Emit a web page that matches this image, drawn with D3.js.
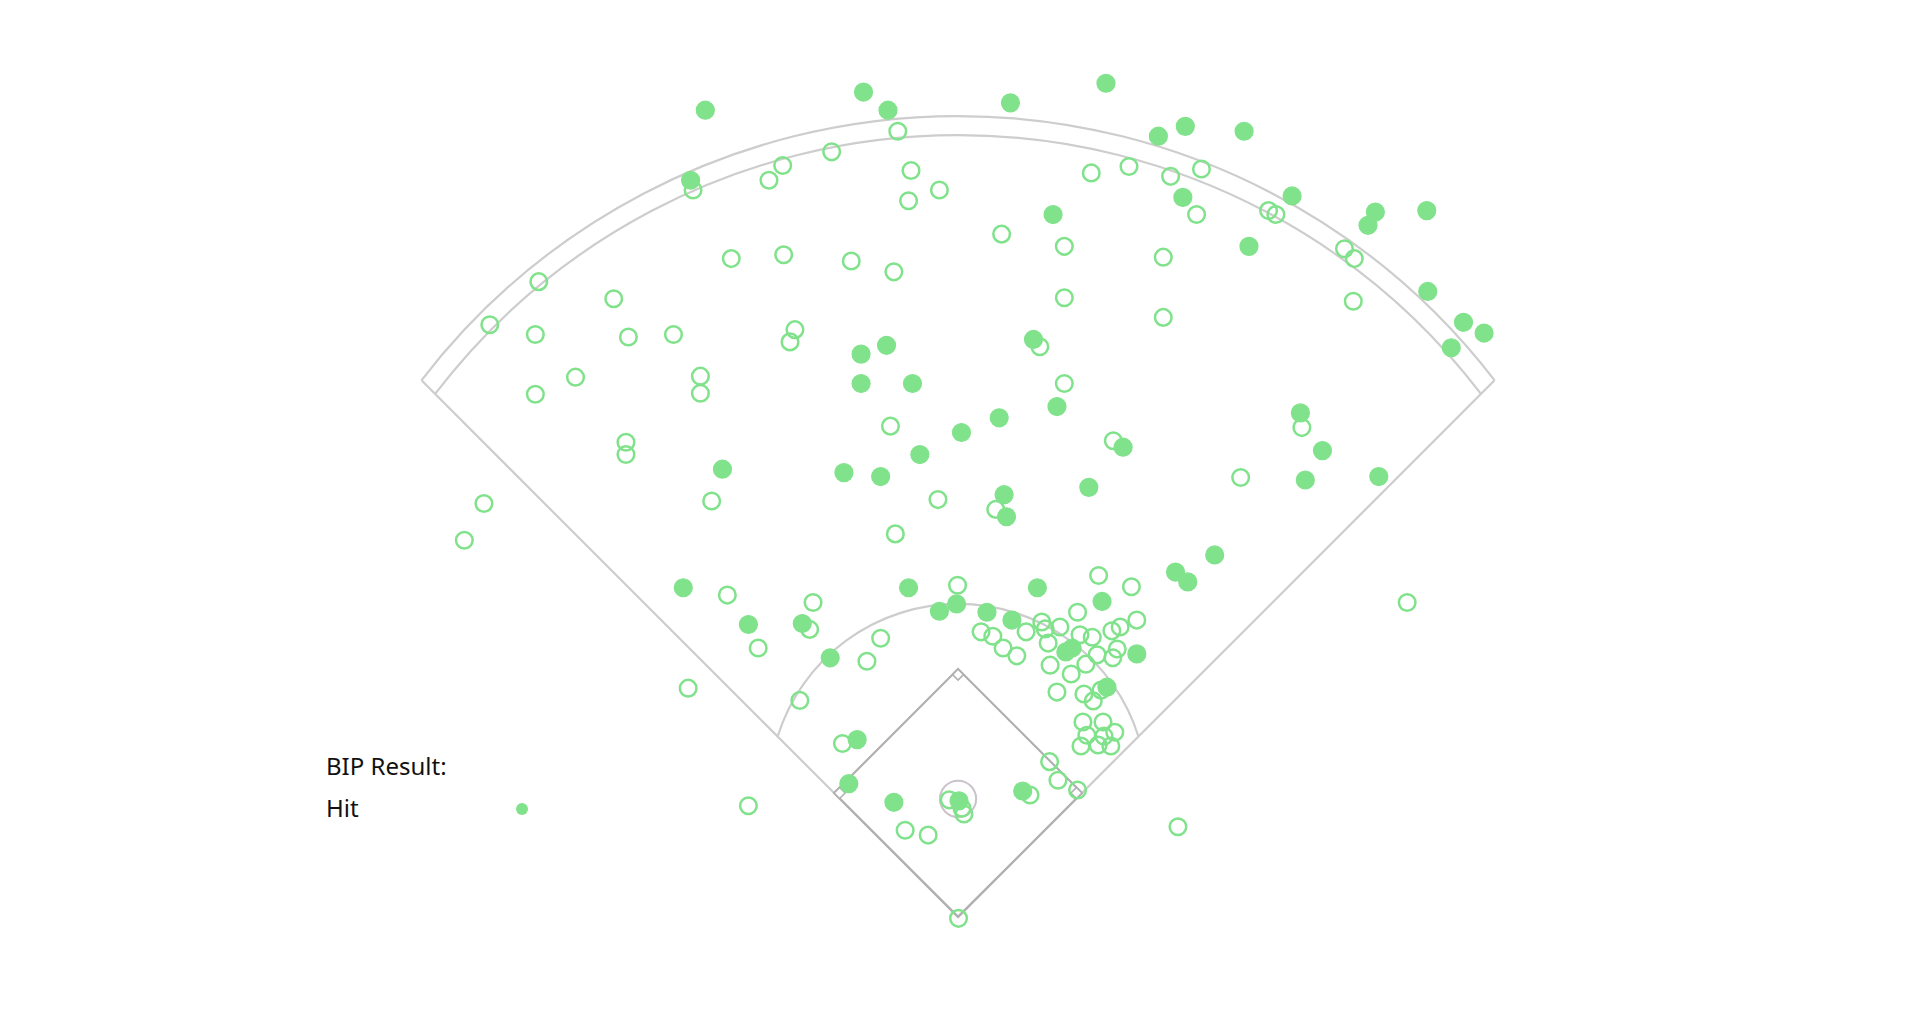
<!DOCTYPE html>
<html>
<head>
<meta charset="utf-8">
<script src="https://cdn.jsdelivr.net/npm/d3@7"></script>
<style>
  html, body { margin: 0; background: #fff; }
  svg { display: block; }
  .field { fill: none; stroke: #cdcdcd; stroke-width: 2.2; }
  .diamond { fill: none; stroke: #b0b0b0; stroke-width: 2.2; }
  .base { fill: #fff; stroke: #b0b0b0; stroke-width: 1.6; }
  .legend text { font-family: "Noto Sans", sans-serif; font-size: 24px; fill: #111; }
</style>
</head>
<body>
<div id="chart"></div>
<script>

// balls in play, hit coordinates (hc_x, hc_y)
const hitX = [74.0, 106.3, 111.3, 136.3, 155.8, 166.5, 172.0, 184.0, 193.8, 210.8, 209.3, 221.3, 221.5, 228.8, 233.0, 226.3,
	71.0, 171.5, 145.0, 185.0, 105.8, 111.0, 105.8, 116.3, 141.0, 145.8, 126.3, 134.0, 117.8, 159.3, 195.5, 200.0,
	196.5, 211.5, 77.5, 102.3, 109.8, 135.0, 135.5, 152.3, 178.0, 170.0, 172.5, 69.5, 82.8, 93.8, 115.5, 121.8,
	125.3, 131.5, 141.8, 155.0, 99.5, 105.0, 103.3, 112.5, 138.8, 148.9, 147.6, 162.1, 156.0, 136.6, 125.8];
const hitY = [33.5, 29.8, 33.5, 32.0, 28.0, 38.8, 36.8, 37.8, 51.0, 54.3, 57.0, 54.0, 70.5, 76.8, 79.0, 82.0,
	47.8, 51.3, 54.8, 61.3, 83.3, 81.5, 89.3, 89.3, 80.3, 94.0, 99.3, 96.3, 103.8, 102.3, 95.3, 103.0,
	109.0, 108.3, 106.8, 107.5, 108.3, 112.0, 116.5, 110.5, 124.3, 127.8, 129.8, 131.0, 138.5, 138.3, 131.0, 135.8,
	134.3, 136.0, 131.0, 133.8, 145.3, 162.0, 171.0, 174.8, 172.5, 143.3, 144.1, 144.5, 151.3, 137.6, 174.5];

const outX = [113.3, 71.5, 87.0, 89.8, 99.8, 116.0, 115.5, 121.8, 152.8, 160.5, 169.0, 175.3, 174.3, 147.3, 134.5, 189.0,
	190.5, 204.5, 206.5, 167.5, 206.3, 40.0, 30.0, 39.3, 55.3, 58.3, 67.5, 79.3, 90.0, 103.8, 112.5, 147.3,
	167.5, 92.3, 91.3, 142.3, 147.3, 47.5, 39.3, 73.0, 73.0, 57.8, 57.8, 111.8, 157.3, 195.8, 183.3, 75.3,
	121.5, 133.3, 112.8, 28.8, 24.8, 217.3, 78.5, 96.0, 95.3, 84.8, 125.5, 154.3, 161.0, 150.0, 109.8, 107.0,
	70.5, 93.3, 102.0, 114.8, 119.5, 82.8, 140.3, 144.3, 146.0, 150.0, 170.5, 125.7,
	130.3, 132.7, 134.8, 137.6, 139.5, 143.4, 144.0, 150.5, 153.0, 157.0, 158.7, 144.4, 148.7, 151.7, 154.0, 157.2,
	158.1, 145.8, 151.3, 153.2, 154.8, 151.1, 155.2, 151.9, 155.4, 157.6, 150.7, 154.2, 156.8, 146.4, 162.1, 142.7,
	123.8, 126.4, 126.8];
const outY = [37.8, 49.8, 47.8, 44.8, 42.0, 45.8, 52.0, 49.8, 46.3, 45.0, 47.0, 45.5, 54.8, 61.3, 58.8, 54.0,
	54.8, 61.8, 63.8, 63.5, 72.5, 68.5, 77.3, 79.3, 72.0, 79.8, 79.3, 63.8, 63.0, 64.3, 66.5, 71.8,
	75.8, 78.3, 80.8, 81.8, 89.3, 88.0, 91.5, 87.8, 91.3, 101.3, 103.8, 98.0, 101.0, 98.3, 108.5, 113.3,
	113.0, 115.0, 120.0, 113.8, 121.3, 134.0, 132.5, 134.0, 139.5, 143.3, 130.5, 128.5, 130.8, 136.0, 141.3, 146.0,
	151.5, 154.0, 162.8, 180.5, 181.5, 175.5, 173.3, 166.5, 170.3, 172.3, 179.8, 198.5,
	140.0, 140.9, 143.3, 144.9, 140.0, 139.4, 142.3, 140.6, 141.1, 139.8, 139.0, 146.8, 148.6, 146.6, 144.7, 145.3,
	143.5, 152.3, 152.7, 154.1, 151.9, 158.4, 158.4, 161.1, 161.3, 160.5, 163.3, 163.1, 163.3, 139.0, 137.6, 138.0,
	174.3, 176.0, 177.2];

const legendTitle = "BIP Result:";
const legendLabels = ["Hit"];

// field, same units (about 2.5 ft each)
const home = [125.6, 198.2];
const baseHalf = 25.3;      // half of the diamond diagonal
const fenceOuter = 138.2;   // radii measured from the middle of the diamond
const fenceInner = 134.3;
const infieldR = 38.6;
const moundY = 174.1;
const moundR = 3.7;

const green = "#80e28b";
const width = 1920;
const height = 1032;

const svg = d3.select("#chart").append("svg")
	.attr("width", width)
	.attr("height", height);

const x = d3.scaleLinear().domain([-70, 322]).range([0, width]);
const y = d3.scaleLinear().domain([11, 11 + 392 * height / width]).range([0, height]);
const k = x(1) - x(0);

const hx = x(home[0]);
const hy = y(home[1]);
const cx = hx;
const cy = y(home[1] - baseHalf);
const half = hy - cy;

// where a circle round the diamond centre meets a foul line
function foulPoint(r, side) {
	const t = half / Math.SQRT2 + Math.sqrt(r * r - half * half / 2);
	return [hx + side * t / Math.SQRT2, hy - t / Math.SQRT2];
}

function arcPath(r) {
	const p0 = foulPoint(r, -1);
	const a0 = Math.atan2(p0[1] - cy, p0[0] - cx);
	const a1 = Math.atan2(p0[1] - cy, cx - p0[0]);
	const p = d3.path();
	p.arc(cx, cy, r, a0, a1);
	return p.toString();
}

const field = svg.append("g");

const outerPx = fenceOuter * k;
[-1, 1].forEach((side) => {
	const end = foulPoint(outerPx, side);
	field.append("line")
		.attr("class", "field")
		.attr("x1", hx).attr("y1", hy)
		.attr("x2", end[0]).attr("y2", end[1]);
});

[fenceOuter, fenceInner, infieldR].forEach((r) => {
	field.append("path")
		.attr("class", "field")
		.attr("d", arcPath(r * k));
});

field.append("path")
	.attr("class", "diamond")
	.attr("d", d3.line()([[hx, hy], [hx + half, cy], [hx, cy - half], [hx - half, cy]]) + "Z");

field.append("circle")
	.attr("cx", cx)
	.attr("cy", y(moundY))
	.attr("r", moundR * k)
	.attr("fill", "none")
	.attr("stroke", "#cbc3cb")
	.attr("stroke-width", 2);

// bases sit inside the diamond corners
const h = 5.5;
const bases = [
	[[hx + half, cy], [-1, 0]],
	[[hx, cy - half], [0, 1]],
	[[hx - half, cy], [1, 0]]
];
bases.forEach(([v, dir]) => {
	const c = [v[0] + dir[0] * h, v[1] + dir[1] * h];
	field.append("path")
		.attr("class", "base")
		.attr("d", d3.line()([[c[0], c[1] - h], [c[0] + h, c[1]], [c[0], c[1] + h], [c[0] - h, c[1]]]) + "Z");
});

const outs = outX.map((d, i) => ({ x: d, y: outY[i] }));
const hits = hitX.map((d, i) => ({ x: d, y: hitY[i] }));

svg.append("g")
	.selectAll("circle")
		.data(outs).enter()
	.append("circle")
		.attr("cx", (d) => x(d.x))
		.attr("cy", (d) => y(d.y))
		.attr("r", 8.3)
		.attr("fill", "none")
		.attr("stroke", green)
		.attr("stroke-width", 2.5);

svg.append("g")
	.selectAll("circle")
		.data(hits).enter()
	.append("circle")
		.attr("cx", (d) => x(d.x))
		.attr("cy", (d) => y(d.y))
		.attr("r", 9)
		.attr("fill", green)
		.attr("stroke", green)
		.attr("stroke-width", 1.2);

const legend = svg.append("g").attr("class", "legend");
legend.append("text")
	.attr("x", 326)
	.attr("y", 775)
	.text(legendTitle);

legendLabels.forEach((label, i) => {
	legend.append("text")
		.attr("x", 326)
		.attr("y", 817 + i * 42)
		.text(label);
	legend.append("circle")
		.attr("cx", 522)
		.attr("cy", 809 + i * 42)
		.attr("r", 6)
		.attr("fill", green);
});

</script>
</body>
</html>
